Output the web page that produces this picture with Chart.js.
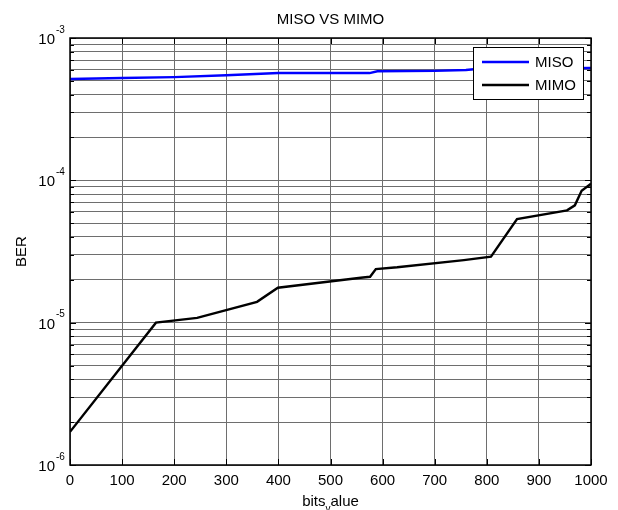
<!DOCTYPE html>
<html>
<head>
<meta charset="utf-8">
<script src="https://cdn.jsdelivr.net/npm/chart.js@4.4.0/dist/chart.umd.min.js"></script>
<style>
  html, body { margin: 0; padding: 0; background: #fff; }
  #wrap { width: 618px; height: 510px; }
</style>
</head>
<body>
<div id="wrap"><canvas id="berChart" width="618" height="510"></canvas></div>
<script>
const chartTitle = "MISO VS MIMO";
const xTicks = [0, 100, 200, 300, 400, 500, 600, 700, 800, 900, 1000];
const yDecades = [-6, -5, -4, -3];
const yMinorSteps = [2, 3, 4, 5, 6, 7, 8, 9];

const misoX = [0, 100, 200, 300, 400, 575, 590, 700, 760, 780, 1000];
const misoBer = [5.15e-4, 5.24e-4, 5.31e-4, 5.47e-4, 5.67e-4, 5.67e-4, 5.84e-4, 5.88e-4, 5.96e-4, 6.06e-4, 6.16e-4];

const mimoX = [0, 165, 244, 359, 399, 558, 576, 587, 628, 756, 808, 858, 954, 969, 982, 1000];
const mimoBer = [1.71e-6, 1.0e-5, 1.081e-5, 1.40e-5, 1.76e-5, 2.07e-5, 2.10e-5, 2.38e-5, 2.45e-5, 2.75e-5, 2.91e-5, 5.35e-5, 6.15e-5, 6.67e-5, 8.45e-5, 9.45e-5];

const FONT = '"Liberation Sans", Arial, sans-serif';

// every grid value on the log axis: 1..9 x 10^n
const yGridValues = [];
yDecades.forEach((e, i) => {
  yGridValues.push(Math.pow(10, e));
  if (i < yDecades.length - 1) {
    yMinorSteps.forEach(m => yGridValues.push(m * Math.pow(10, e)));
  }
});

const toPoints = (xs, ys) => xs.map((x, i) => ({ x: x, y: ys[i] }));

// matlab-ish frame, ticks, labels and legend
const matlabLook = {
  id: "matlabLook",
  afterDatasetsDraw(chart) {
    const ctx = chart.ctx;
    const a = chart.chartArea;
    const xs = chart.scales.x, ys = chart.scales.y;
    ctx.save();
    ctx.strokeStyle = "#000";
    ctx.lineWidth = 1;

    // tick marks inside the box
    ctx.beginPath();
    xTicks.forEach(v => {
      const px = Math.round(xs.getPixelForValue(v)) + 0.5;
      ctx.moveTo(px, a.bottom); ctx.lineTo(px, a.bottom - 6);
      ctx.moveTo(px, a.top); ctx.lineTo(px, a.top + 6);
    });
    yGridValues.forEach(v => {
      const py = Math.round(ys.getPixelForValue(v)) + 0.5;
      const major = Math.abs(Math.log10(v) % 1) < 1e-9;
      const len = major ? 6 : 4;
      ctx.moveTo(a.left, py); ctx.lineTo(a.left + len, py);
      ctx.moveTo(a.right, py); ctx.lineTo(a.right - len, py);
    });
    ctx.stroke();

    // box
    ctx.lineWidth = 1.5;
    ctx.strokeRect(a.left, a.top, a.right - a.left, a.bottom - a.top);

    // x tick labels
    ctx.fillStyle = "#000";
    ctx.font = "15px " + FONT;
    ctx.textAlign = "center";
    ctx.textBaseline = "middle";
    xTicks.forEach(v => ctx.fillText(String(v), xs.getPixelForValue(v), a.bottom + 16));

    // y tick labels 10^n
    yDecades.forEach(e => {
      const py = ys.getPixelForValue(Math.pow(10, e));
      ctx.font = "15px " + FONT;
      ctx.textAlign = "right";
      ctx.fillText("10", a.left - 15, py + 2);
      ctx.font = "10px " + FONT;
      ctx.textAlign = "left";
      ctx.fillText(String(e), a.left - 14, py - 8);
    });

    // title
    ctx.font = "15px " + FONT;
    ctx.textAlign = "center";
    ctx.fillText(chartTitle, (a.left + a.right) / 2, 20);

    // x axis title, underscore shown as matlab subscript
    const parts = ["bits", "v", "alue"];
    ctx.font = "15px " + FONT;
    const w0 = ctx.measureText(parts[0]).width;
    const w2 = ctx.measureText(parts[2]).width;
    ctx.font = "10px " + FONT;
    const w1 = ctx.measureText(parts[1]).width;
    let tx = (a.left + a.right) / 2 - (w0 + w1 + w2) / 2;
    const ty = a.bottom + 37;
    ctx.textAlign = "left";
    ctx.font = "15px " + FONT;
    ctx.fillText(parts[0], tx, ty); tx += w0;
    ctx.font = "10px " + FONT;
    ctx.fillText(parts[1], tx, ty + 7); tx += w1;
    ctx.font = "15px " + FONT;
    ctx.fillText(parts[2], tx, ty);

    // y axis title
    ctx.save();
    ctx.translate(22, (a.top + a.bottom) / 2);
    ctx.rotate(-Math.PI / 2);
    ctx.textAlign = "center";
    ctx.fillText("BER", 0, 0);
    ctx.restore();

    // legend box
    const lx = 473, ly = 47, lw = 110, lh = 52;
    ctx.fillStyle = "#fff";
    ctx.fillRect(lx, ly, lw, lh);
    ctx.lineWidth = 1;
    ctx.strokeStyle = "#000";
    ctx.strokeRect(lx + 0.5, ly + 0.5, lw, lh);
    chart.data.datasets.forEach((ds, i) => {
      const ry = ly + 15 + i * 23;
      ctx.strokeStyle = ds.borderColor;
      ctx.lineWidth = ds.borderWidth;
      ctx.beginPath();
      ctx.moveTo(lx + 9, ry); ctx.lineTo(lx + 56, ry);
      ctx.stroke();
      ctx.fillStyle = "#000";
      ctx.font = "15px " + FONT;
      ctx.textAlign = "left";
      ctx.textBaseline = "middle";
      ctx.fillText(ds.label, lx + 62, ry + 1);
    });
    ctx.restore();
  }
};

new Chart(document.getElementById("berChart"), {
  type: "line",
  data: {
    datasets: [
      { label: "MISO", data: toPoints(misoX, misoBer), borderColor: "#0000ff", borderWidth: 2.4, pointRadius: 0, tension: 0, fill: false },
      { label: "MIMO", data: toPoints(mimoX, mimoBer), borderColor: "#000000", borderWidth: 2.4, pointRadius: 0, tension: 0, fill: false }
    ]
  },
  options: {
    responsive: false,
    animation: false,
    layout: { padding: { left: 70, right: 27, top: 38, bottom: 45 } },
    plugins: { legend: { display: false }, title: { display: false }, tooltip: { enabled: false } },
    scales: {
      x: {
        type: "linear", min: 0, max: 1000,
        afterBuildTicks: s => { s.ticks = xTicks.map(v => ({ value: v })); },
        ticks: { display: false },
        grid: { color: "#6e6e6e", lineWidth: 1, drawTicks: false },
        border: { display: false }
      },
      y: {
        type: "logarithmic", min: 1e-6, max: 1e-3,
        afterBuildTicks: s => { s.ticks = yGridValues.map(v => ({ value: v })); },
        ticks: { display: false },
        grid: { color: "#6e6e6e", lineWidth: 1, drawTicks: false },
        border: { display: false }
      }
    }
  },
  plugins: [matlabLook]
});
</script>
</body>
</html>
